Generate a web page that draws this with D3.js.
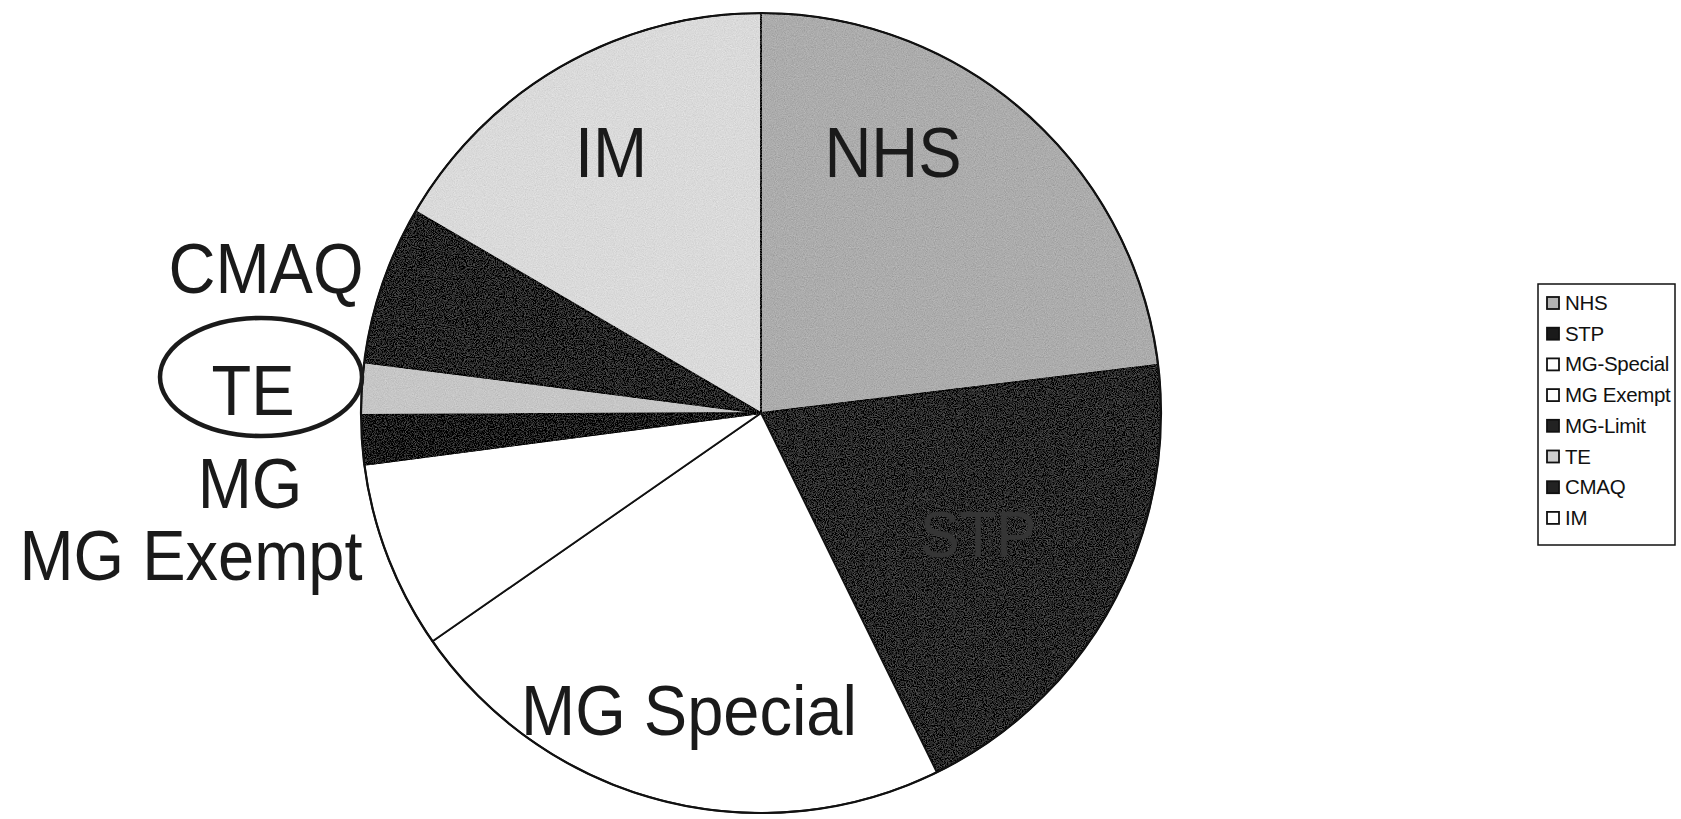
<!DOCTYPE html>
<html>
<head>
<meta charset="utf-8">
<script src="https://cdn.jsdelivr.net/npm/d3@7"></script>
<style>
  html, body { margin: 0; padding: 0; background: #fff; }
  svg { display: block; font-family: "Liberation Sans", Arial, sans-serif; }
</style>
</head>
<body>
<svg id="chart" width="1681" height="819"></svg>
<script>
// program shares (percent), clockwise from 12 o'clock
const categories = ["NHS", "STP", "MG-Special", "MG Exempt", "MG-Limit", "TE", "CMAQ", "IM"];
const shares = [23.1, 19.7, 22.6, 7.6, 2.0, 2.1, 6.4, 16.6];

// labels written on / beside the pie
const sliceLabels = ["NHS", "STP", "MG Special", "MG Exempt", "MG", "TE", "CMAQ", "IM"];

const sliceFill = ["#acacac", "#2b2b2b", "#ffffff", "#ffffff", "#1c1c1c", "#c6c6c6", "#282828", "#dadada"];
const swatchFill = ["#b4b4b4", "#1a1a1a", "#ffffff", "#ffffff", "#222222", "#cfcfcf", "#222222", "#ffffff"];

function drawChart() {
  const svg = d3.select("#chart");
  const cx = 761, cy = 413, r = 400;

  // grain so the grey slices look like the scanned print
  const defs = svg.append("defs");
  const f = defs.append("filter").attr("id", "grain")
    .attr("x", 0).attr("y", 0).attr("width", 1).attr("height", 1);
  f.append("feTurbulence").attr("type", "fractalNoise")
    .attr("baseFrequency", 0.9).attr("numOctaves", 2).attr("seed", 4).attr("result", "noise");
  f.append("feColorMatrix").attr("in", "noise").attr("type", "matrix")
    .attr("values", "0.33 0.33 0.33 0 0  0.33 0.33 0.33 0 0  0.33 0.33 0.33 0 0  0 0 0 0 1")
    .attr("result", "grey");
  f.append("feComposite").attr("in", "grey").attr("in2", "SourceGraphic")
    .attr("operator", "arithmetic")
    .attr("k1", 0).attr("k2", 0.4).attr("k3", 1).attr("k4", -0.2)
    .attr("result", "mix");
  f.append("feComposite").attr("in", "mix").attr("in2", "SourceGraphic").attr("operator", "in");

  const pie = d3.pie().sort(null).value(d => d);
  const arcs = pie(shares);
  const arc = d3.arc().innerRadius(0).outerRadius(r);

  const g = svg.append("g").attr("transform", `translate(${cx},${cy})`);

  g.selectAll("path.slice")
    .data(arcs)
    .join("path")
    .attr("class", "slice")
    .attr("d", arc)
    .attr("fill", (d, i) => sliceFill[i])
    .attr("filter", (d, i) => sliceFill[i] === "#ffffff" ? null : "url(#grain)")
    .attr("stroke", "#111")
    .attr("stroke-width", 1.8)
    .attr("stroke-linejoin", "round");

  // outer rim
  g.append("circle").attr("r", r).attr("fill", "none")
    .attr("stroke", "#111").attr("stroke-width", 2.2);

  // labels inside the big slices
  const inside = [
    { i: 7, x: 611, y: 177, fill: "#1a1a1a" },
    { i: 0, x: 893, y: 177, fill: "#1a1a1a" },
    { i: 1, x: 978, y: 557, fill: "#353535", size: 60 },
    { i: 2, x: 689, y: 735, fill: "#1a1a1a" }
  ];
  // labels set to the left of the pie
  const outside = [
    { i: 6, x: 266, y: 293 },
    { i: 5, x: 253, y: 415 },
    { i: 4, x: 250, y: 508 },
    { i: 3, x: 191, y: 580 }
  ];

  svg.selectAll("text.lbl")
    .data(inside.concat(outside))
    .join("text")
    .attr("class", "lbl")
    .attr("transform", d => `translate(${d.x},${d.y}) scale(1,1.07)`)
    .attr("text-anchor", "middle")
    .style("font-size", d => (d.size || 65) + "px")
    .style("fill", d => d.fill || "#1a1a1a")
    .text(d => sliceLabels[d.i]);

  // hand-drawn ring around TE
  svg.append("ellipse")
    .attr("cx", 261).attr("cy", 377).attr("rx", 101).attr("ry", 59)
    .attr("fill", "none").attr("stroke", "#1a1a1a").attr("stroke-width", 4.5);

  // legend
  const lx = 1538, ly = 284, rowH = 30.7;
  const legend = svg.append("g");
  legend.append("rect")
    .attr("x", lx).attr("y", ly)
    .attr("width", 137).attr("height", 261)
    .attr("fill", "#fff").attr("stroke", "#111").attr("stroke-width", 1.5);

  const rows = legend.selectAll("g.row")
    .data(categories)
    .join("g")
    .attr("class", "row")
    .attr("transform", (d, i) => `translate(${lx + 9},${ly + 19 + i * rowH})`);

  rows.append("rect")
    .attr("x", 0).attr("y", -6)
    .attr("width", 12).attr("height", 12)
    .attr("fill", (d, i) => swatchFill[i])
    .attr("stroke", "#111").attr("stroke-width", 1.8);

  rows.append("text")
    .attr("x", 18).attr("y", 7)
    .style("font-size", "20.5px")
    .style("fill", "#111")
    .style("letter-spacing", "-0.3px")
    .text(d => d);
}

drawChart();
</script>
</body>
</html>
